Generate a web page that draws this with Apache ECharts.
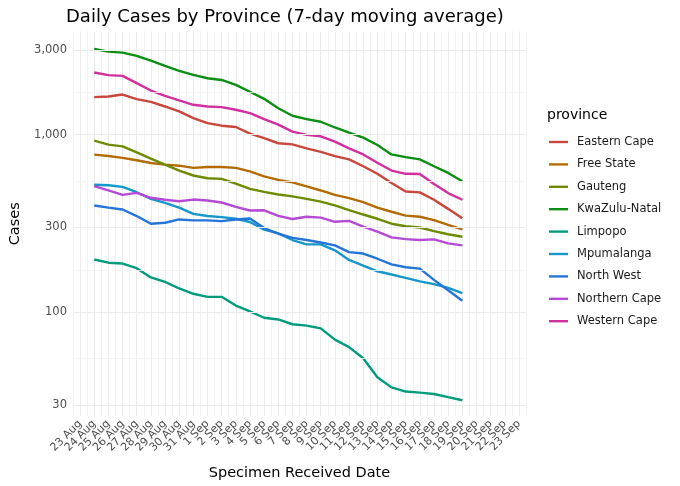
<!DOCTYPE html>
<html><head><meta charset="utf-8">
<script src="https://cdn.jsdelivr.net/npm/echarts@6/dist/echarts.min.js"></script>
<style>html,body{margin:0;padding:0;background:#fff}#c{width:680px;height:486px}</style>
</head><body><div id="c"></div>
<script>
const categories = ['23 Aug','24 Aug','25 Aug','26 Aug','27 Aug','28 Aug','29 Aug','30 Aug','31 Aug',
  '1 Sep','2 Sep','3 Sep','4 Sep','5 Sep','6 Sep','7 Sep','8 Sep','9 Sep','10 Sep','11 Sep','12 Sep',
  '13 Sep','14 Sep','15 Sep','16 Sep','17 Sep','18 Sep','19 Sep','20 Sep','21 Sep','22 Sep','23 Sep'];
const dates = ['24 Aug','25 Aug','26 Aug','27 Aug','28 Aug','29 Aug','30 Aug','31 Aug',
  '1 Sep','2 Sep','3 Sep','4 Sep','5 Sep','6 Sep','7 Sep','8 Sep','9 Sep','10 Sep','11 Sep','12 Sep',
  '13 Sep','14 Sep','15 Sep','16 Sep','17 Sep','18 Sep','19 Sep'];
const provinces = ['Eastern Cape','Free State','Gauteng','KwaZulu-Natal','Limpopo','Mpumalanga','North West','Northern Cape','Western Cape'];
const easternCape = [1628,1641,1684,1587,1532,1442,1352,1241,1163,1124,1105,1013,956,895,882,838,801,757,726,664,602,534,479,473,430,382,338];
const freeState = [772,759,740,718,693,678,669,650,658,658,650,622,583,556,539,511,485,458,439,417,388,368,350,345,330,310,293];
const gauteng = [925,879,860,796,733,678,628,589,568,564,530,495,476,460,449,435,420,400,376,355,336,315,305,300,286,275,266];
const kwaZuluNatal = [3040,2940,2900,2780,2615,2440,2290,2175,2080,2035,1910,1745,1593,1410,1279,1224,1183,1098,1027,962,875,774,747,726,664,609,546];
const limpopo = [198,190,188,177,157,148,136,127,122,122,109,101,93,91,85.5,84,81,70,63.5,55,43,37.7,35.7,35.2,34.6,33.2,31.9];
const mpumalanga = [522,519,508,474,435,413,388,358,348,343,336,322,292,278,255,241,241,223,197,183,170,163,156,149,144,137,128];
const northWest = [399,388,379,348,315,319,333,329,329,326,333,337,298,277,262,255,247,238,218,214,200,186,179,176,152,133,116];
const northernCape = [513,486,458,470,441,430,422,431,426,415,392,374,375,349,335,345,341,323,327,303,284,264,258,255,257,244,238];
const westernCape = [2240,2165,2146,1952,1774,1656,1559,1474,1442,1431,1382,1324,1225,1140,1041,998,980,914,838,774,695,628,602,600,527,469,430];
const yTicks = [30,100,300,1000,3000];
const yMinor = [54.77,173.2,547.7,1732];

const seriesValues = [easternCape,freeState,gauteng,kwaZuluNatal,limpopo,mpumalanga,northWest,northernCape,westernCape];
const colors = ['#C9463D','#B36B00','#6E8B00','#0B8E12','#009B7D','#1598C9','#2574D9','#B44AD6','#D12F9E'];
const FONT = 'DejaVu Sans';

const series = provinces.map((p,k)=>({
  name:p, type:'line', symbol:'none', smooth:false,
  lineStyle:{width:2.4,color:colors[k]}, itemStyle:{color:colors[k]},
  data: dates.map((d,i)=>[categories.indexOf(d), seriesValues[k][i]]),
  z:3
}));
series.push({
  type:'line', data:[], silent:true, z:1,
  markLine:{symbol:'none', silent:true, animation:false, label:{show:false},
    data: yTicks.map(v=>({yAxis:v, lineStyle:{color:'#ebebeb',width:1.1,type:'solid'}}))
      .concat(yMinor.map(v=>({yAxis:v, lineStyle:{color:'#f3f3f3',width:0.8,type:'solid'}})))
  }
});

const chart = echarts.init(document.getElementById('c'));
chart.setOption({
  animation:false,
  textStyle:{fontFamily:FONT},
  title:[
    {text:'Daily Cases by Province (7-day moving average)', left:61, top:3,
     textStyle:{fontFamily:FONT,fontSize:18,fontWeight:'normal',color:'#000'}},
    {text:'province', left:542, top:103,
     textStyle:{fontFamily:FONT,fontSize:14,fontWeight:'normal',color:'#000'}}
  ],
  legend:{orient:'vertical', left:544, top:131, itemWidth:19, itemHeight:14, itemGap:10.4,
    icon:'path://M0,0 H20 V2.5 H0 Z',
    data:provinces, textStyle:{fontFamily:FONT,fontSize:11.5,color:'#1a1a1a',padding:[0,0,0,4]}},
  grid:{left:65, right:154, top:31.5, bottom:69, containLabel:false},
  xAxis:{type:'value', min:-0.5, max:31.5, interval:0.5,
    axisLine:{show:false}, axisTick:{show:false},
    splitLine:{show:true, lineStyle:{color:['#f3f3f3','#ebebeb'],width:1}},
    axisLabel:{rotate:45, margin:6, fontFamily:FONT, fontSize:11, color:'#4d4d4d',
      formatter:v=>Number.isInteger(v)?categories[v]:''},
    name:'Specimen Received Date', nameLocation:'middle', nameGap:50,
    nameTextStyle:{fontFamily:FONT,fontSize:14.5,color:'#000'}},
  yAxis:{type:'log', logBase:10, min:26, max:3815,
    axisLine:{show:false}, axisTick:{show:false, customValues:yTicks},
    splitLine:{show:false},
    axisLabel:{customValues:yTicks, fontFamily:FONT, fontSize:11.5, color:'#4d4d4d', margin:6,
      formatter:v=>Math.round(v).toLocaleString('en-US')},
    name:'Cases', nameLocation:'middle', nameGap:50, nameRotate:90,
    nameTextStyle:{fontFamily:FONT,fontSize:14.5,color:'#000'}},
  series:series
});
</script></body></html>
